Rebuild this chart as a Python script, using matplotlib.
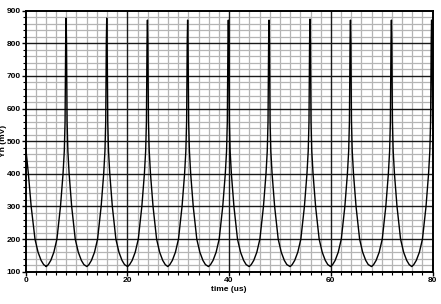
import matplotlib
matplotlib.use("Agg")
import matplotlib.pyplot as plt
from matplotlib.ticker import MultipleLocator

# start of the trace, before the first spike (us, mV)
start_t = [0.0, 0.3, 0.55, 1.1, 1.85, 2.45, 3.05, 3.55, 4.1]
start_v = [485, 440, 400, 300, 200, 160, 135, 122, 116]

# one spike/valley cycle around a peak: offset from the peak (us) and level (mV)
cycle_dt = [-3.9, -3.5, -3.0, -2.4, -1.8, -1.1, -0.6, -0.35, -0.2, -0.08,
            0.0, 0.08, 0.2, 0.35, 0.6, 1.1, 1.8, 2.4, 3.0, 3.5]
cycle_v = [116, 122, 135, 160, 200, 300, 400, 470, 560, 805,
           875, 805, 560, 470, 400, 300, 200, 160, 135, 122]

# peak times and peak heights
peak_t = [7.96, 15.95, 23.95, 31.85, 39.85, 47.85, 55.9, 63.85, 71.9, 79.8]
peak_v = [877, 877, 871, 871, 871, 871, 874, 871, 871, 871]

xticks = [0, 20, 40, 60, 80]
yticks = [100, 200, 300, 400, 500, 600, 700, 800, 900]


def build_trace():
    t = list(start_t)
    v = list(start_v)
    for p, h in zip(peak_t, peak_v):
        for dt, val in zip(cycle_dt, cycle_v):
            t.append(p + dt)
            v.append(h if dt == 0.0 else val)
    return t, v


def main():
    t, v = build_trace()

    fig = plt.figure(figsize=(4.41, 3.04), dpi=100)
    ax = fig.add_axes([0.058, 0.106, 0.923, 0.859])

    ax.plot(t, v, color="black", lw=1.0, zorder=3)

    ax.set_xlim(0, 80)
    ax.set_ylim(100, 900)
    ax.set_xticks(xticks)
    ax.set_yticks(yticks)
    ax.xaxis.set_minor_locator(MultipleLocator(2))
    ax.yaxis.set_minor_locator(MultipleLocator(20))

    # light minor grid, dark major lines drawn on top of it
    ax.grid(which="minor", color="#b4b4b4", lw=0.9)
    ax.set_axisbelow(True)
    for x in xticks[1:-1]:
        ax.axvline(x, color="#1a1a1a", lw=1.0, zorder=2)
    for y in yticks[1:-1]:
        ax.axhline(y, color="#1a1a1a", lw=1.0, zorder=2)

    for s in ax.spines.values():
        s.set_color("black")
        s.set_linewidth(1.4)
        s.set_zorder(4)

    font = dict(family="Liberation Sans", weight="bold", size=6)
    ax.tick_params(which="major", direction="out", length=3, width=1,
                   color="black", pad=0.5)
    ax.tick_params(which="minor", direction="out", length=2, width=0.8,
                   color="black")
    ax.set_xticklabels([str(x) for x in xticks], fontdict=font)
    ax.set_yticklabels([str(y) for y in yticks], fontdict=font)
    ax.set_xlabel("time (us)", fontdict=font, labelpad=1.5)
    fig.text(0.0085, 0.536, "Yn (mV)", rotation=90, ha="center", va="center",
             **font)

    fig.savefig("out.png", dpi=100)


if __name__ == "__main__":
    main()
